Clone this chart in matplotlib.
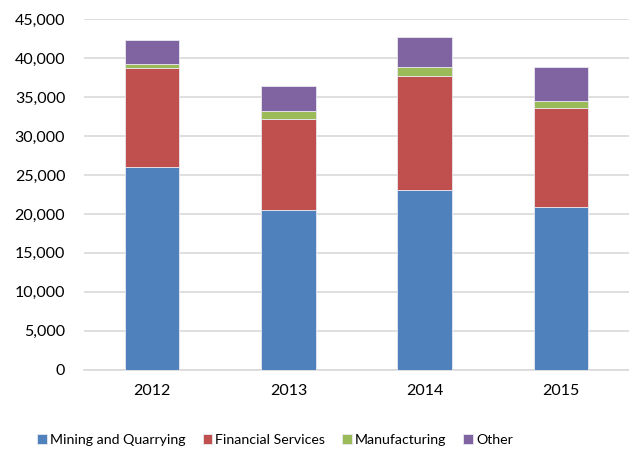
import matplotlib.pyplot as plt
import numpy as np

years = ["2012", "2013", "2014", "2015"]
mining = [26000, 20550, 23100, 20850]
financial = [12700, 11600, 14600, 12700]
manufacturing = [550, 1100, 1150, 950]
other = [3150, 3120, 3850, 4350]

series = [
    ("Mining and Quarrying", mining, "#4F81BD"),
    ("Financial Services", financial, "#C0504D"),
    ("Manufacturing", manufacturing, "#9BBB59"),
    ("Other", other, "#8064A2"),
]

plt.rcParams['font.family'] = ['Lato', 'DejaVu Sans']
plt.rcParams['font.size'] = 11.5

fig = plt.figure(figsize=(6.29, 4.55), dpi=100)
ax = fig.add_axes([0.1335, 0.1875, 0.8665, 0.7701])

x = np.arange(len(years))
bottom = np.zeros(len(years))
for name, vals, col in series:
    ax.bar(x, vals, 0.4, bottom=bottom, color=col, label=name,
           edgecolor="#E8E8F0", linewidth=0.6, zorder=3)
    bottom += np.array(vals)

ax.set_xlim(-0.5, 3.5)
ax.set_ylim(0, 45000)
ax.set_yticks(range(0, 45001, 5000))
ax.set_yticklabels([f"{v:,}" for v in range(0, 45001, 5000)])
ax.set_xticks(x)
ax.set_xticklabels(years)
ax.grid(axis="y", color="#D9D9D9", linewidth=1.2, zorder=0)
for s in ["top", "right", "left"]:
    ax.spines[s].set_visible(False)
ax.spines["bottom"].set_color("#D9D9D9")
ax.spines["bottom"].set_linewidth(1.2)
ax.tick_params(axis="y", length=0, pad=13.5)
ax.tick_params(axis="x", length=0, pad=10)

fig.legend(loc="center", bbox_to_anchor=(275 / 629, 1 - 440 / 455), ncol=4,
           frameon=False, fontsize=10.2, handlelength=0.7, handleheight=0.7,
           handletextpad=0.2, columnspacing=1.2, borderpad=0)

fig.savefig("out.png", dpi=100)
